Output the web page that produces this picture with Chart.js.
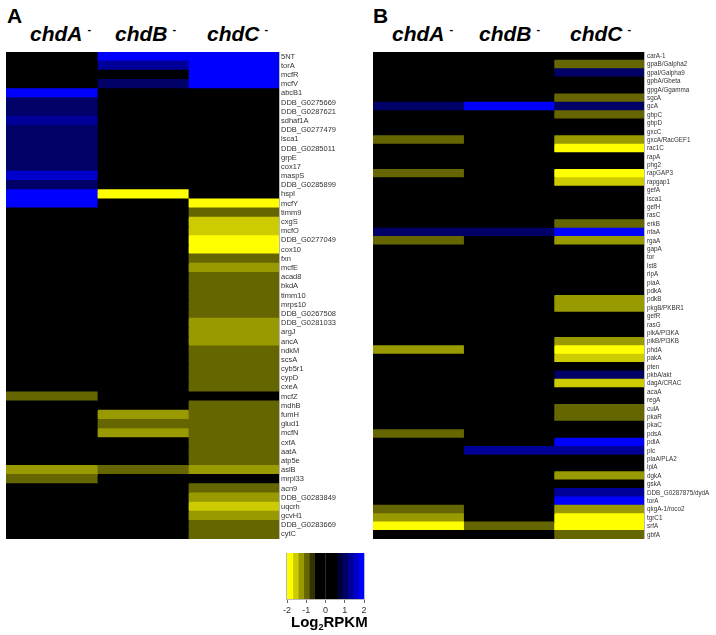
<!DOCTYPE html>
<html>
<head>
<meta charset="utf-8">
<script src="https://cdn.jsdelivr.net/npm/chart.js@4.4.0/dist/chart.umd.min.js"></script>
<style>
  html, body { margin: 0; padding: 0; background: #fff; }
  body { width: 716px; height: 635px; position: relative; overflow: hidden; font-family: "Liberation Sans", Arial, sans-serif; }
  canvas { position: absolute; }
  .hdr { position: absolute; font-weight: bold; font-style: italic; font-size: 21px; line-height: 1; color: #000; white-space: nowrap; }
  .hdr sup { font-size: 11px; font-style: normal; vertical-align: 0; position: relative; top: -8px; margin-left: 5px; }
  .panel { position: absolute; font-weight: bold; font-size: 21px; line-height: 1; color: #000; }
  .unit { position: absolute; font-weight: bold; font-size: 15px; line-height: 1; color: #000; white-space: nowrap; }
  .unit sub { font-size: 9px; vertical-align: 0; position: relative; top: 3px; }
</style>
</head>
<body>
<div class="panel" style="left:7px; top:5px;">A</div>
<div class="panel" style="left:373px; top:5px;">B</div>

<div class="hdr" style="left:30px; top:23px;">chdA<sup>-</sup></div>
<div class="hdr" style="left:115px; top:23px;">chdB<sup>-</sup></div>
<div class="hdr" style="left:207px; top:23px;">chdC<sup>-</sup></div>

<div class="hdr" style="left:392px; top:23px;">chdA<sup>-</sup></div>
<div class="hdr" style="left:479px; top:23px;">chdB<sup>-</sup></div>
<div class="hdr" style="left:570px; top:23px;">chdC<sup>-</sup></div>

<canvas id="heatA" width="353" height="487" style="left:6px; top:52px;"></canvas>
<canvas id="heatB" width="341" height="487" style="left:373px; top:52px;"></canvas>
<canvas id="legend" width="97" height="70" style="left:277px; top:553px;"></canvas>
<div class="unit" style="left:291px; top:614px;">Log<sub>2</sub>RPKM</div>

<script>
// ---------- DATA ----------
const conditions = ["chdA-", "chdB-", "chdC-"];

// Panel A genes
const genesA = ["5NT","torA","mcfR","mcfV","abcB1","DDB_G0275669","DDB_G0287621","sdhaf1A","DDB_G0277479","isca1",
  "DDB_G0285011","grpE","cox17","maspS","DDB_G0285899","hspI","mcfY","timm9","cxgS","mcfO",
  "DDB_G0277049","cox10","fxn","mcfE","acad8","bkdA","timm10","mrps10","DDB_G0267508","DDB_G0281033",
  "argJ","ancA","ndkM","scsA","cyb5r1","cypD","cxeA","mcfZ","mdhB","fumH",
  "glud1","mcfN","cxfA","aatA","atp5e","aslB","mrpl33","acn9","DDB_G0283849","uqcrh",
  "gcvH1","DDB_G0283669","cytC"];
// log2 values per condition (panel A)
const chdA_A = [0,0,0,0,1.9,1.0,1.0,1.3,1.0,1.0,
  1.0,1.0,1.0,1.6,1.0,1.9,1.9,0,0,0,
  0,0,0,0,0,0,0,0,0,0,
  0,0,0,0,0,0,0,-1.0,0,0,
  0,0,0,0,0,-1.3,-1.0,0,0,0,
  0,0,0];
const chdB_A = [1.9,1.3,0,1.0,0,0,0,0,0,0,
  0,0,0,0,0,-1.9,0,0,0,0,
  0,0,0,0,0,0,0,0,0,0,
  0,0,0,0,0,0,0,0,0,-1.3,
  -1.0,-1.3,0,0,0,-1.0,0,0,0,0,
  0,0,0];
const chdC_A = [1.9,1.9,1.9,1.9,0,0,0,0,0,0,
  0,0,0,0,0,0,-1.9,-1.0,-1.6,-1.6,
  -1.9,-1.9,-1.0,-1.3,-1.0,-1.0,-1.0,-1.0,-1.0,-1.3,
  -1.3,-1.3,-1.0,-1.0,-1.0,-1.0,-1.0,0,-1.0,-1.0,
  -1.0,-1.0,-1.0,-1.0,-1.0,-1.3,0,-1.0,-1.3,-1.6,
  -1.3,-1.0,-1.0];

// Panel B genes
const genesB = ["carA-1","gpaB/Galpha2","gpaI/Galpha9","gpbA/Gbeta","gpgA/Ggamma","sgcA","gcA","gbpC","gbpD","gxcC",
  "gxcA/RacGEF1","rac1C","rapA","phg2","rapGAP3","rapgap1","gefA","isca1","gefH","rasC",
  "erkB","nfaA","rgaA","gapA","tor","lst8","ripA","piaA","pdkA","pdkB",
  "pkgB/PKBR1","gefR","rasG","pikA/PI3KA","pikB/PI3KB","phdA","pakA","pten","pkbA/akt","dagA/CRAC",
  "acaA","regA","culA","pkaR","pkaC","pdsA","pdiA","plc","plaA/PLA2","iplA",
  "dgkA","gskA","DDB_G0287875/dydA","torA","qkgA-1/roco2","tgrC1","srfA","gbfA"];
const chdA_B = [0,0,0,0,0,0,1.0,0,0,0,
  -1.0,0,0,0,-1.0,0,0,0,0,0,
  0,1.0,-1.0,0,0,0,0,0,0,0,
  0,0,0,0,0,-1.3,0,0,0,0,
  0,0,0,0,0,-1.0,0,0,0,0,
  0,0,0,0,-1.0,-1.3,-1.9,0];
const chdB_B = [0,0,0,0,0,0,1.9,0,0,0,
  0,0,0,0,0,0,0,0,0,0,
  0,1.0,0,0,0,0,0,0,0,0,
  0,0,0,0,0,0,0,0,0,0,
  0,0,0,0,0,0,0,1.3,0,0,
  0,0,0,0,0,0,-1.0,0];
const chdC_B = [0,-1.0,1.0,0,0,-1.0,1.0,-1.0,0,0,
  -1.3,-1.9,0,0,-1.9,-1.6,0,0,0,0,
  -1.0,1.9,-1.3,0,0,0,0,0,0,-1.3,
  -1.3,0,0,0,-1.3,-1.9,-1.6,0,1.0,-1.6,
  0,0,-1.0,-1.0,0,0,1.9,1.3,0,0,
  -1.3,0,1.3,1.9,-1.3,-1.9,-1.9,-1.0];

// Colour key breaks (log2 RPKM) and ticks
const legendBreaks = [-2,-1.714,-1.429,-1.143,-0.857,-0.571,-0.286,0,0.286,0.571,0.857,1.143,1.429,1.714,2];
const legendTicks = [-2,-1,0,1,2];

// ---------- COLOUR ----------
function colorFor(v) {
  const i = Math.min(13, Math.max(0, Math.floor((v + 2) / (4 / 14))));
  if (i <= 4) { const c = Math.round(255 * (5 - i) / 5); return `rgb(${c},${c},0)`; }
  if (i >= 9) { const c = Math.round(255 * (i - 8) / 5); return `rgb(0,0,${c})`; }
  return 'rgb(0,0,0)';
}

const frame = {
  id: 'frame',
  afterDatasetsDraw(chart) {
    const a = chart.chartArea, ctx = chart.ctx;
    ctx.save();
    ctx.strokeStyle = '#b8b8b8';
    ctx.lineWidth = 1;
    ctx.strokeRect(Math.round(a.left) - 0.5, Math.round(a.top) - 0.5, Math.round(a.right - a.left) + 1, Math.round(a.bottom - a.top) + 1);
    ctx.restore();
  }
};

const FONT = "'Liberation Sans', Arial, sans-serif";

function heatmap(id, genes, cols, axisWidth, fontSize, pad) {
  new Chart(document.getElementById(id), {
    type: 'bar',
    data: {
      labels: genes,
      datasets: cols.map((vals, k) => ({
        label: conditions[k],
        data: vals.map(() => 1),
        backgroundColor: vals.map(colorFor),
        borderWidth: 0,
        inflateAmount: 0.6,
        barPercentage: 1,
        categoryPercentage: 1
      }))
    },
    options: {
      indexAxis: 'y',
      responsive: false,
      animation: false,
      events: [],
      layout: { padding: 0 },
      plugins: { legend: { display: false }, tooltip: { enabled: false } },
      scales: {
        x: { stacked: true, min: 0, max: 3, display: false },
        y: {
          stacked: true,
          position: 'right',
          grid: { display: false, drawTicks: false },
          border: { display: false },
          ticks: { autoSkip: false, color: '#333', padding: pad, font: { size: fontSize, family: FONT } },
          afterFit(a) { a.width = axisWidth; a.paddingTop = 0; a.paddingBottom = 0; }
        }
      }
    },
    plugins: [frame]
  });
}

heatmap('heatA', genesA, [chdA_A, chdB_A, chdC_A], 80, 7.5, 2);
heatmap('heatB', genesB, [chdA_B, chdB_B, chdC_B], 70, 6.3, 3);

// ---------- COLOUR KEY ----------
const bands = [];
for (let i = 0; i < legendBreaks.length - 1; i++) {
  const a = legendBreaks[i], b = legendBreaks[i + 1];
  bands.push({
    data: [[a, b]],
    backgroundColor: colorFor((a + b) / 2),
    borderWidth: 0,
    inflateAmount: 0.6,
    grouped: false,
    barPercentage: 1,
    categoryPercentage: 1
  });
}
new Chart(document.getElementById('legend'), {
  type: 'bar',
  data: { labels: ['Log2RPKM'], datasets: bands },
  options: {
    indexAxis: 'y',
    responsive: false,
    animation: false,
    events: [],
    layout: { padding: { left: 10, right: 10, top: 0, bottom: 0 } },
    plugins: { legend: { display: false }, tooltip: { enabled: false } },
    scales: {
      y: { display: false },
      x: {
        type: 'linear',
        min: legendBreaks[0],
        max: legendBreaks[legendBreaks.length - 1],
        afterBuildTicks(a) { a.ticks = legendTicks.map(v => ({ value: v })); },
        grid: { display: true, drawOnChartArea: false, drawTicks: true, tickLength: 4, color: '#666' },
        border: { display: false },
        ticks: { color: '#333', padding: 2, font: { size: 9, family: FONT } },
        afterFit(a) { a.height = 24; a.paddingLeft = 0; a.paddingRight = 0; }
      }
    }
  },
  plugins: [frame]
});
</script>
</body>
</html>
